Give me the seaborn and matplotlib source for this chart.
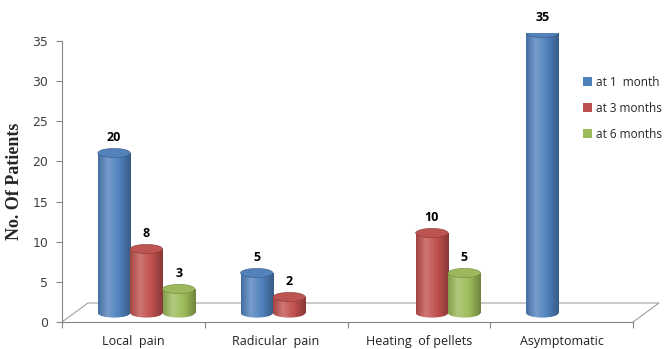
import numpy as np
import pandas as pd
import matplotlib
matplotlib.use('Agg')
import matplotlib.pyplot as plt
from matplotlib.patches import Ellipse, Rectangle, Patch
from matplotlib.colors import LinearSegmentedColormap, to_rgb
import seaborn as sns

# data
categories = ['Local  pain', 'Radicular  pain', 'Heating  of pellets', 'Asymptomatic']
periods = ['at 1  month', 'at 3 months', 'at 6 months']
one_month = [20, 5, 0, 35]
three_months = [8, 2, 10, 0]
six_months = [3, 0, 5, 0]
colors = ['#4F81BD', '#C0504D', '#9BBB59']

df = pd.DataFrame({
    'category': categories * 3,
    'period': np.repeat(periods, len(categories)),
    'patients': one_month + three_months + six_months,
})

sns.set_style('white')
plt.rcParams['font.family'] = ['Open Sans', 'DejaVu Sans']

W, H = 665, 349
fig = plt.figure(figsize=(W / 100, H / 100), dpi=100)

# frame axes (ticks, labels, floor)
ax = fig.add_axes([62 / W, (H - 322) / H, 571 / W, 281 / H])
ax.set_xlim(-0.5, 3.5)
ax.set_ylim(0, 35)
ax.set_yticks(range(0, 36, 5))
ax.set_yticklabels([str(v) for v in range(0, 36, 5)], fontfamily='DejaVu Sans')
ax.set_xticks([-0.5, 0.5, 1.5, 2.5, 3.5])
ax.set_xticklabels([])
ax.set_xticks(range(len(categories)), minor=True)
ax.set_xticklabels(categories, minor=True)
ax.tick_params(axis='y', length=4, width=0.8, color='#868686', pad=6,
               labelsize=9, labelcolor='#404040', left=True)
ax.tick_params(axis='x', which='major', length=4, width=0.8, color='#868686', bottom=True)
ax.tick_params(axis='x', which='minor', length=0, pad=9, labelsize=9, labelcolor='#202020')
for s in ['top', 'right']:
    ax.spines[s].set_visible(False)
for s in ['left', 'bottom']:
    ax.spines[s].set_color('#868686')
    ax.spines[s].set_linewidth(0.8)
ax.set_ylabel('No. Of Patients', fontfamily='Liberation Serif', fontweight='bold', fontsize=13)
ax.yaxis.set_label_coords(-0.068, 0.5)

# floor of the 3d plot
dx, dy = 26 / 571, 19 / 281
ax.plot([0, dx, 1 + dx, 1], [0, dy, dy, 0], transform=ax.transAxes,
        color='#A0A0A0', lw=0.8, clip_on=False, zorder=1)

# bar axes, shifted half the depth of the floor
ax2 = fig.add_axes([75 / W, (H - 325) / H, 571 / W, 292 / H])
ax2.patch.set_visible(False)
sns.barplot(data=df, x='category', y='patients', hue='period', order=categories,
            hue_order=periods, palette=colors, saturation=1, width=0.68,
            errorbar=None, legend=False, ax=ax2)

cap = 1.15


def cylinder(a, x, w, h, color):
    base = np.array(to_rgb(color))
    dark = base * 0.7
    light = base + (1 - base) * 0.22
    cmap = LinearSegmentedColormap.from_list(
        'cyl', [(0, base * 0.85), (0.3, light), (0.65, base), (1, dark)])
    grad = np.linspace(0, 1, 256)[None, :]
    body = Rectangle((x, 0), w, h, facecolor='none', edgecolor='none')
    bottom = Ellipse((x + w / 2, 0), w, cap, facecolor='none', edgecolor='none')
    for clip in (body, bottom):
        a.add_patch(clip)
        im = a.imshow(grad, cmap=cmap, extent=(x, x + w, -cap, h), aspect='auto',
                      interpolation='bilinear', zorder=2)
        im.set_clip_path(clip)
    top = Ellipse((x + w / 2, h), w, cap, facecolor=base * 0.95 + 0.03,
                  edgecolor=dark, lw=0.4, zorder=3)
    a.add_patch(top)


for p in list(ax2.patches):
    h = p.get_height()
    x, w = p.get_x(), p.get_width()
    fc = p.get_facecolor()
    p.set_visible(False)
    if h <= 0:
        continue
    cylinder(ax2, x, w, h, fc[:3])
    ax2.annotate(f'{h:g}', (x + w / 2, h), xytext=(0, 11), textcoords='offset points',
                 ha='center', va='center', fontweight='bold', fontsize=9, color='black')

ax2.set_xlim(-0.5, 3.5)
ax2.set_ylim(-1.5, 35)
ax2.axis('off')

handles = [Patch(facecolor=c, edgecolor='none') for c in colors]
fig.legend(handles, periods, loc='upper left', bbox_to_anchor=(578 / W, 1 - 71 / H),
           frameon=False, fontsize=8.5, handlelength=0.75, handleheight=0.75,
           handletextpad=0.35, labelspacing=1.1, borderaxespad=0)

fig.savefig('out.png', dpi=100)
